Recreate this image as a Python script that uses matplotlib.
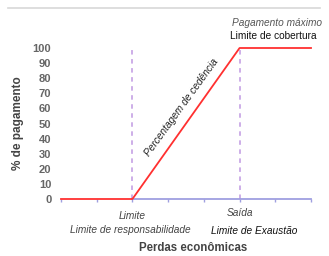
import matplotlib
matplotlib.use("Agg")
import matplotlib.pyplot as plt
from matplotlib.lines import Line2D

x_points = [0, 2, 5, 7]
y_points = [0, 0, 100, 100]
yticks = [0, 10, 20, 30, 40, 50, 60, 70, 80, 90, 100]
xticks = [0, 1, 2, 3, 4, 5, 6, 7]
threshold = 2
exhaustion = 5

plt.rcParams['font.family'] = ['Liberation Sans', 'DejaVu Sans']

fig = plt.figure(figsize=(3.29, 2.56), dpi=100)
ax = fig.add_axes([61/329, 1-199/256, 250/329, 151/256])
ax.set_xlim(0, 7)
ax.set_ylim(0, 100)

for xv in (threshold, exhaustion):
    ax.plot([xv, xv], [0, 100], color='#c9a8e6', lw=1.3, ls=(0, (2.5, 2.5)), zorder=1)

ax.plot(x_points, y_points, color='#ff3030', lw=1.3, clip_on=False, zorder=3)
ax.plot([threshold, 7], [0, 0], color='#9f9fe0', lw=1.3, clip_on=False, zorder=2)

for s in ['top', 'right', 'left', 'bottom']:
    ax.spines[s].set_visible(False)

ax.set_yticks(yticks)
ax.set_yticklabels([str(v) for v in yticks], fontsize=8, fontweight='bold', color='#666666')
ax.tick_params(axis='y', length=0, pad=7)
ax.set_xticks(xticks)
ax.set_xticklabels([''] * len(xticks))
ax.tick_params(axis='x', length=2, color='#9f9fe0', direction='out', width=1)

ax.set_ylabel('% de pagamento', fontsize=8.5, fontweight='bold', color='#444444', labelpad=6)

ax.text(3.39, 61, 'Percentagem de cedência', rotation=54, rotation_mode='anchor',
        ha='center', va='center', fontsize=7.3, style='italic', color='#222222')

ax.text(threshold, -11, 'Limite', ha='center', va='center', fontsize=7.3, style='italic', color='#444444')
ax.text(threshold - 0.05, -20.5, 'Limite de responsabilidade', ha='center', va='center', fontsize=7.3,
        style='italic', color='#444444')
ax.text(exhaustion, -9.5, 'Saída', ha='center', va='center', fontsize=7.3, style='italic', color='#444444')
ax.text(exhaustion + 0.4, -21.5, 'Limite de Exaustão', ha='center', va='center', fontsize=7.3,
        style='italic', color='#111111')
ax.text(3.7, -32.5, 'Perdas econômicas', ha='center', va='center', fontsize=8.3,
        fontweight='bold', color='#444444')

ax.text(6.05, 116.5, 'Pagamento máximo', ha='center', va='center', fontsize=7.3,
        style='italic', color='#555555', clip_on=False)
ax.text(5.95, 108, 'Limite de cobertura', ha='center', va='center', fontsize=7.3,
        color='#111111', clip_on=False)

fig.add_artist(Line2D([8/329, 320/329], [1-8/256, 1-8/256], color='#d8d8d8', lw=1.2))

fig.savefig('out.png', dpi=100, facecolor='white')
